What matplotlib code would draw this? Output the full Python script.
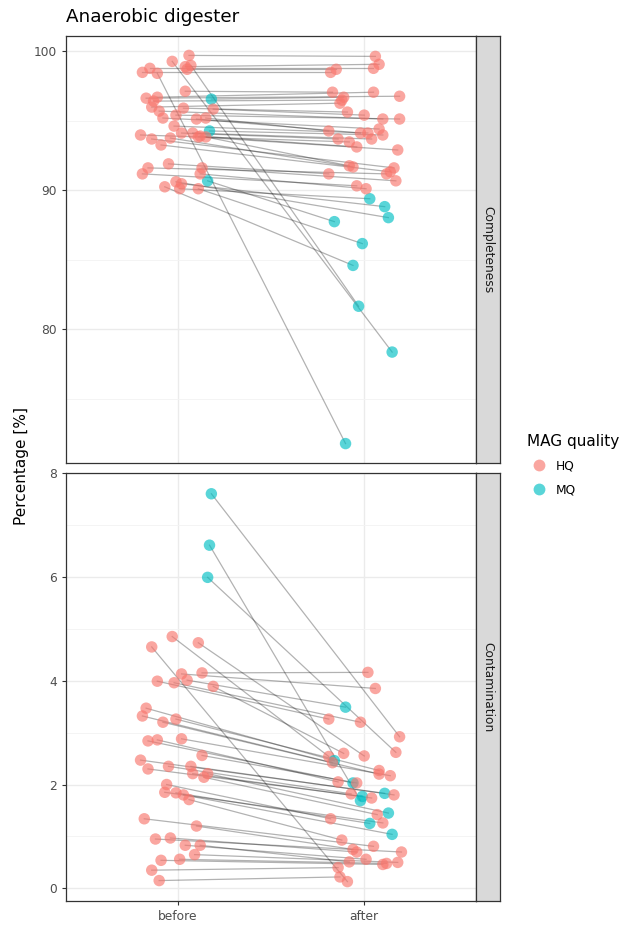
import numpy as np
import matplotlib
matplotlib.use("Agg")
import matplotlib.pyplot as plt
from matplotlib.lines import Line2D

plt.rcParams['font.family'] = ['DejaVu Sans']

hq_color = '#F8766D'
mq_color = '#00BFC4'
conditions = ['before', 'after']
facets = ['Completeness', 'Contamination']

# Completeness: one entry per MAG (before -> after), jitter offsets
comp_before = [99.28, 98.99, 98.42, 90.68, 90.25, 90.11, 90.61, 90.47, 90.11,
               99.71, 98.90, 98.78, 98.71, 98.49, 97.13, 96.70, 96.63, 96.56, 96.42,
               95.99, 95.91, 95.84, 95.70, 95.41, 95.20, 95.20, 95.13, 94.62, 94.27,
               94.12, 94.12, 93.98, 93.90, 93.84, 93.84, 93.76, 93.69, 93.26, 91.90,
               91.61, 91.61, 91.18, 91.18]
comp_before_q = ['HQ', 'HQ', 'HQ', 'MQ', 'HQ', 'HQ', 'HQ', 'HQ', 'HQ',
                 'HQ', 'HQ', 'HQ', 'HQ', 'HQ', 'HQ', 'HQ', 'HQ', 'MQ', 'HQ',
                 'HQ', 'HQ', 'HQ', 'HQ', 'HQ', 'HQ', 'HQ', 'HQ', 'HQ', 'MQ',
                 'HQ', 'HQ', 'HQ', 'HQ', 'HQ', 'HQ', 'HQ', 'HQ', 'HQ', 'HQ',
                 'HQ', 'HQ', 'HQ', 'HQ']
comp_before_jit = [-0.03, 0.07, -0.11, 0.16, -0.07, 0.11, -0.01, 0.02, 0.01,
                   0.06, 0.04, -0.15, 0.05, -0.19, 0.04, -0.11, -0.17, 0.18, -0.13,
                   -0.14, 0.03, 0.19, -0.10, -0.01, -0.08, 0.15, 0.10, -0.02, 0.17,
                   0.02, 0.08, -0.20, 0.12, 0.11, 0.15, -0.04, -0.14, -0.09, -0.05,
                   -0.16, 0.13, -0.19, 0.12]
comp_after = [78.35, 81.65, 71.76, 87.74, 84.59, 86.16, 88.03, 88.82, 89.39,
              99.64, 99.07, 98.78, 98.71, 98.49, 97.06, 97.06, 96.77, 96.70, 96.49,
              96.27, 95.63, 95.41, 95.13, 95.13, 94.41, 94.27, 94.12, 94.12, 93.98,
              93.69, 93.69, 93.48, 93.12, 92.90, 91.76, 91.68, 91.61, 91.33, 91.18,
              91.18, 90.68, 90.32, 90.11]
comp_after_q = ['MQ'] * 9 + ['HQ'] * 34
comp_after_jit = [0.15, -0.03, -0.10, -0.16, -0.06, -0.01, 0.13, 0.11, 0.03,
                  0.06, 0.08, 0.05, -0.15, -0.18, -0.17, 0.05, 0.19, -0.11, -0.12,
                  -0.13, -0.09, 0.00, 0.10, 0.19, 0.08, -0.19, -0.02, 0.02, 0.10,
                  -0.14, 0.04, -0.08, -0.04, 0.18, -0.08, -0.06, 0.16, 0.14, -0.19,
                  0.12, 0.17, -0.04, 0.01]

# Contamination
cont_before = [7.60, 6.61, 5.99, 4.85, 4.73, 4.65,
               4.15, 4.13, 4.01, 3.99, 3.96, 3.89, 3.47, 3.32, 3.26, 3.20,
               2.88, 2.86, 2.84, 2.56, 2.47, 2.35, 2.35, 2.30, 2.21, 2.21,
               2.14, 2.00, 1.85, 1.84, 1.80, 1.71, 1.34, 1.20, 0.97, 0.95,
               0.83, 0.83, 0.65, 0.56, 0.54, 0.35, 0.15]
cont_before_q = ['MQ', 'MQ', 'MQ'] + ['HQ'] * 40
cont_before_jit = [0.18, 0.17, 0.16, -0.03, 0.11, -0.14,
                   0.13, 0.02, 0.05, -0.11, -0.02, 0.19, -0.17, -0.19, -0.01, -0.08,
                   0.02, -0.11, -0.16, 0.13, -0.20, -0.05, 0.07, -0.16, 0.08, 0.16,
                   0.14, -0.06, -0.07, -0.01, 0.03, 0.06, -0.18, 0.10, -0.04, -0.12,
                   0.04, 0.12, 0.09, 0.01, -0.09, -0.14, -0.10]
cont_after = [2.92, 1.69, 2.62, 2.54, 2.55, 0.13,
              4.16, 3.85, 3.49, 3.26, 3.20, 2.60, 2.46, 2.42, 2.27, 2.20,
              2.17, 2.05, 2.03, 2.03, 1.83, 1.82, 1.80, 1.77, 1.74, 1.45,
              1.42, 1.34, 1.26, 1.25, 1.04, 0.93, 0.81, 0.75, 0.70, 0.70,
              0.56, 0.51, 0.50, 0.48, 0.46, 0.40, 0.22]
cont_after_q = ['HQ', 'MQ', 'HQ', 'HQ', 'HQ', 'HQ',
                'HQ', 'HQ', 'MQ', 'HQ', 'HQ', 'HQ', 'MQ', 'HQ', 'HQ', 'HQ',
                'HQ', 'HQ', 'MQ', 'HQ', 'MQ', 'HQ', 'HQ', 'MQ', 'HQ', 'MQ',
                'HQ', 'HQ', 'HQ', 'MQ', 'MQ', 'HQ', 'HQ', 'HQ', 'HQ', 'HQ',
                'HQ', 'HQ', 'HQ', 'HQ', 'HQ', 'HQ', 'HQ']
cont_after_jit = [0.19, -0.02, 0.17, -0.19, 0.00, -0.09,
                  0.02, 0.06, -0.10, -0.19, -0.02, -0.11, -0.16, -0.17, 0.08, 0.08,
                  0.14, -0.14, -0.06, -0.04, 0.11, -0.07, 0.16, -0.01, 0.04, 0.13,
                  0.07, -0.18, 0.10, 0.03, 0.15, -0.12, 0.05, -0.06, -0.04, 0.20,
                  0.01, -0.08, 0.18, 0.12, 0.10, -0.14, -0.13]

W, H = 622, 926
fig = plt.figure(figsize=(W / 100, H / 100), dpi=100)

def px_box(x0, y0, x1, y1):
    return [x0 / W, 1 - y1 / H, (x1 - x0) / W, (y1 - y0) / H]

panels = [
    (px_box(66, 36, 476, 463), comp_before, comp_before_q, comp_before_jit,
     comp_after, comp_after_q, comp_after_jit, [80, 90, 100], [75, 85, 95]),
    (px_box(66, 473, 476, 901), cont_before, cont_before_q, cont_before_jit,
     cont_after, cont_after_q, cont_after_jit, [0, 2, 4, 6, 8], [1, 3, 5, 7]),
]
strip_boxes = [px_box(476, 36, 500, 463), px_box(476, 473, 500, 901)]

for i, (box, bv, bq, bj, av, aq, aj, majors, minors) in enumerate(panels):
    ax = fig.add_axes(box)
    xb = 1 + np.array(bj)
    xa = 2 + np.array(aj)
    bv = np.array(bv)
    av = np.array(av)
    for k in range(len(bv)):
        ax.plot([xb[k], xa[k]], [bv[k], av[k]], color='black', alpha=0.3,
                lw=0.9, zorder=2)
    cols_b = [hq_color if q == 'HQ' else mq_color for q in bq]
    cols_a = [hq_color if q == 'HQ' else mq_color for q in aq]
    ax.scatter(xb, bv, s=68, c=cols_b, alpha=0.65, linewidths=0, zorder=3)
    ax.scatter(xa, av, s=68, c=cols_a, alpha=0.65, linewidths=0, zorder=3)

    lo = min(bv.min(), av.min())
    hi = max(bv.max(), av.max())
    pad = (hi - lo) * 0.05
    ax.set_ylim(lo - pad, hi + pad)
    ax.set_xlim(0.4, 2.6)
    ax.set_yticks(majors)
    ax.set_yticks(minors, minor=True)
    ax.set_xticks([1, 2])
    ax.grid(True, which='major', color='#EBEBEB', lw=1.0, zorder=0)
    ax.grid(True, which='minor', axis='y', color='#F3F3F3', lw=0.6, zorder=0)
    ax.set_axisbelow(True)
    for sp in ax.spines.values():
        sp.set_color('#333333')
        sp.set_linewidth(0.9)
    ax.tick_params(which='minor', length=0)
    ax.tick_params(which='major', length=3, width=0.8, color='#333333',
                   labelcolor='#4D4D4D', labelsize=8.8)
    if i == 0:
        ax.tick_params(axis='x', which='both', bottom=False, labelbottom=False)
    else:
        ax.set_xticklabels(conditions)

    sax = fig.add_axes(strip_boxes[i])
    sax.set_facecolor('#D9D9D9')
    sax.set_xticks([])
    sax.set_yticks([])
    for sp in sax.spines.values():
        sp.set_color('#333333')
        sp.set_linewidth(0.9)
    sax.text(0.5, 0.5, facets[i], rotation=-90, ha='center', va='center',
             fontsize=8.8, color='#1A1A1A', transform=sax.transAxes)

fig.text(66 / W, 1 - 17 / H, 'Anaerobic digester', fontsize=13.2,
         ha='left', va='center', color='black')
fig.text(22 / W, 1 - 466 / H, 'Percentage [%]', fontsize=11, rotation=90,
         ha='center', va='center', color='black')

handles = [Line2D([], [], marker='o', ls='', color=hq_color, alpha=0.65,
                  markersize=8.5, markeredgewidth=0),
           Line2D([], [], marker='o', ls='', color=mq_color, alpha=0.65,
                  markersize=8.5, markeredgewidth=0)]
leg = fig.legend(handles, ['HQ', 'MQ'], title='MAG quality',
                 loc='upper left', bbox_to_anchor=(518 / W, 1 - 425 / H),
                 frameon=False, fontsize=8.8, title_fontsize=11,
                 handletextpad=0.4, labelspacing=0.9, borderpad=0.2)
leg._legend_box.align = 'left'

fig.savefig('out.png', dpi=100)
